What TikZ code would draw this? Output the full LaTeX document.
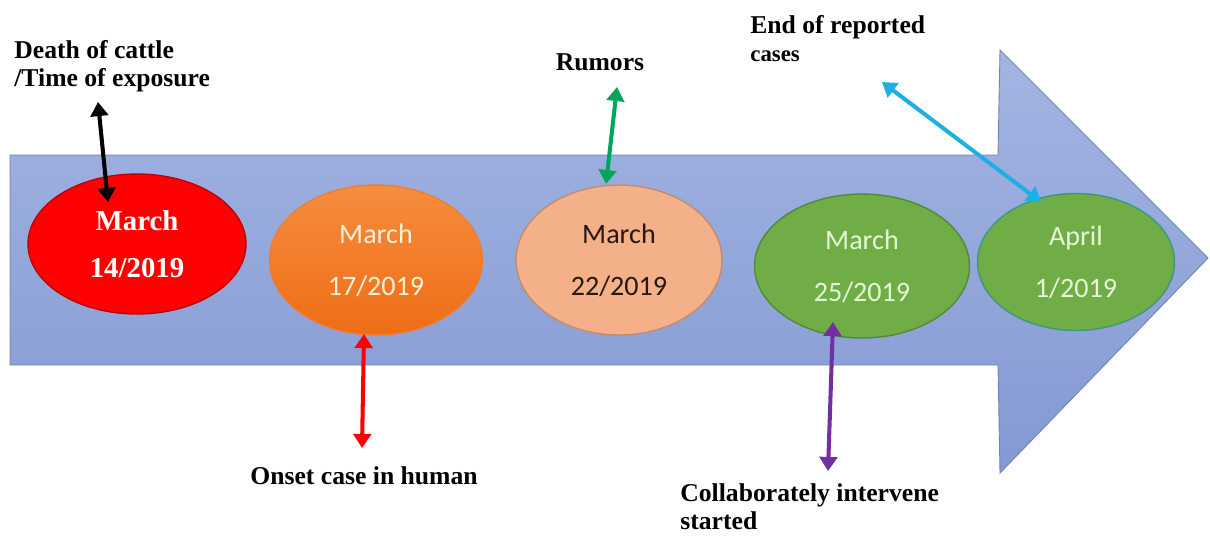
\documentclass[tikz,border=0pt]{standalone}
\usepackage{fontspec}
\setmainfont{Liberation Serif}
\newfontfamily\calfont{Carlito}
\usetikzlibrary{shapes.geometric}
\usetikzlibrary{arrows.meta}

\definecolor{shaftlight}{HTML}{A3B5E2}
\definecolor{shaftdark}{HTML}{8499D3}
\definecolor{redfill}{HTML}{FF0000}
\definecolor{orangetop}{HTML}{F68D3E}
\definecolor{orangebot}{HTML}{EE6D17}
\definecolor{salmon}{HTML}{F4B088}
\definecolor{leaf}{HTML}{70AD47}
\definecolor{leafline}{HTML}{52893A}
\definecolor{cream}{HTML}{FFF0D6}
\definecolor{mint}{HTML}{E6F7D8}
\definecolor{rumgreen}{HTML}{00A65A}
\definecolor{skyblue}{HTML}{1CB0E4}
\definecolor{violet}{HTML}{7030A0}

\begin{document}
\begin{tikzpicture}[x=0.02cm,y=-0.02cm,
	date/.style={ellipse,draw,line width=0.8pt,inner sep=0pt,align=center},
	datetext/.style={font=\calfont\fontsize{16}{29.5}\selectfont},
	event/.style={inner sep=0pt,align=left,font=\bfseries\fontsize{14.6}{16}\selectfont},
	both/.style={line width=2.3pt,{Triangle[width=10pt,length=8pt]}-{Triangle[width=10pt,length=8pt]}}]
\useasboundingbox (0,0) rectangle (1210,535);

%timeline arrow
\shade[top color=shaftlight,bottom color=shaftdark,draw=shaftdark!85!black,line width=0.5pt]
	(10,155) -- (998,155) -- (1000,50) -- (1208,258) -- (1000,473) -- (998,365) -- (10,365) -- cycle;

%dates
\node[date,fill=redfill,draw=redfill!75!black,minimum width=4.36cm,minimum height=2.8cm,
	text=white,font=\bfseries\fontsize{16.4}{27}\selectfont] (d1) at (137,244) {March\\14/2019};
\node[date,datetext,top color=orangetop,bottom color=orangebot,draw=orangebot!90!white,
	minimum width=4.26cm,minimum height=3cm,text=cream] (d2) at (376,260) {March\\17/2019};
\node[date,datetext,fill=salmon,draw=salmon!80!black,minimum width=4.12cm,minimum height=3cm,
	text=black!80!brown] (d3) at (619,260) {March\\22/2019};
\node[date,datetext,fill=leaf,draw=leafline,minimum width=4.3cm,minimum height=2.88cm,
	text=mint] (d4) at (862,266) {March\\25/2019};
\node[date,datetext,fill=leaf,draw=leafline!60!skyblue,minimum width=3.94cm,minimum height=2.74cm,
	text=mint] (d5) at (1076,262) {April\\1/2019};

%events
\node[event,anchor=west] (e1) at (14,66) {Death of cattle\\/Time of exposure};
\node[event] (e2) at (364,476) {Onset case in human};
\node[event] (e3) at (600,62) {Rumors};
\node[event,anchor=west] (e4) at (680,507) {Collaborately intervene\\started};
\node[event,anchor=west] (e5) at (750,39) {End of reported\\{\fontsize{13}{16}\selectfont cases}};

%arrow ends
\coordinate (s1) at (108,202);
\coordinate (t1) at (98,102);
\coordinate (s2) at (364,334);
\coordinate (t2) at (362,448);
\coordinate (s3) at (606,184);
\coordinate (t3) at (617,87);
\coordinate (s4) at (833,322);
\coordinate (t4) at (828,471);
\coordinate (s5) at (1041,202);
\coordinate (t5) at (882,82);

%connectors
\foreach \i/\c in {1/black,2/red,3/rumgreen,4/violet,5/skyblue}
	\draw[both,\c] (s\i) -- (t\i);
\end{tikzpicture}
\end{document}
